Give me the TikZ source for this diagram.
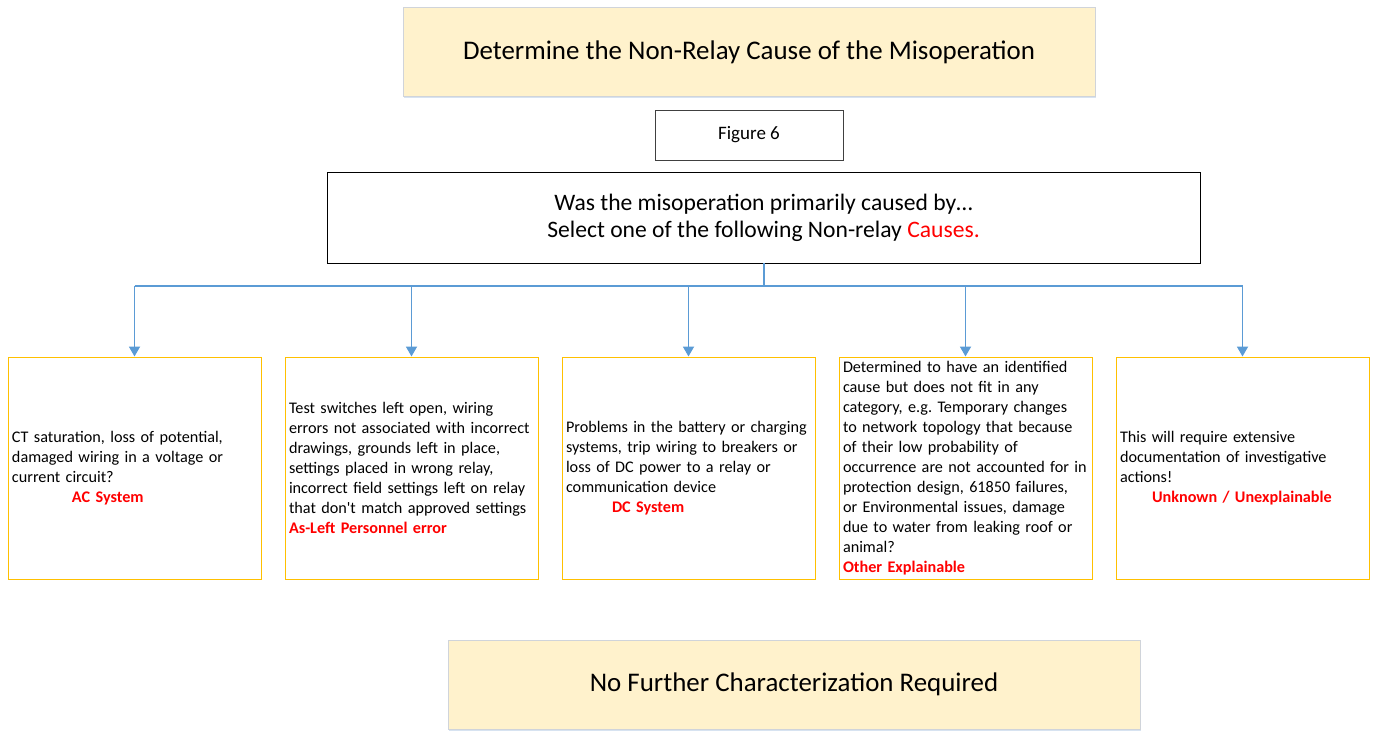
\documentclass[tikz,border=0pt]{standalone}
\usepackage{fontspec}
\setmainfont{Carlito}
\usetikzlibrary{shadows,arrows.meta}
\definecolor{boxfill}{HTML}{FFF2CC}
\definecolor{boxedge}{HTML}{D0D4DA}
\definecolor{oredge}{HTML}{FFC000}
\definecolor{arrowblue}{HTML}{5B9BD5}
\definecolor{redtxt}{HTML}{FF0000}
\definecolor{shadowblue}{HTML}{BDD0E8}
\tikzset{
  x=1pt,y=-1pt,
  headbox/.style={draw=boxedge,fill=boxfill,line width=0.8pt,minimum width=692pt,minimum height=89pt,
    drop shadow={fill=shadowblue,opacity=0.6,shadow xshift=1pt,shadow yshift=-1.5pt},font=\fontsize{26.9}{30}\selectfont},
  causebox/.style={draw=oredge,line width=1pt,minimum width=253pt,minimum height=222pt,text width=245pt,
    inner sep=4pt,align=left,font=\fontsize{16.2}{20}\selectfont},
  conn/.style={draw=arrowblue,line width=1.8pt},
  arr/.style={conn,-{Triangle[length=10pt,width=11pt]}}
}
\begin{document}
\frenchspacing
\begin{tikzpicture}
\useasboundingbox (0,0) rectangle (1374,731);
\node[headbox] (top) at (749,52) {Determine the Non-Relay Cause of the Misoperation};
\node[draw=black!75,line width=0.8pt,minimum width=188pt,minimum height=50pt,font=\fontsize{19}{22}\selectfont] (fig) at (749,135) {Figure 6};
\node[draw=black,line width=0.8pt,minimum width=873pt,minimum height=91pt,align=center,font=\fontsize{23.6}{27}\selectfont] (q) at (763.5,217.5)
  {Was the misoperation primarily caused by\dots\\Select one of the following Non-relay \textcolor{redtxt}{Causes.}};
\node[causebox] (c1) at (134.5,468) {CT saturation, loss of potential,\\damaged wiring in a voltage or\\current circuit?\\\hspace*{60pt}\textcolor{redtxt}{\bfseries AC System}};
\node[causebox] (c2) at (411.5,468) {Test switches left open, wiring\\errors not associated with incorrect\\drawings, grounds left in place,\\settings placed in wrong relay,\\incorrect field settings left on relay\\that don\textquotesingle t match approved settings\\\textcolor{redtxt}{\bfseries As-Left Personnel error}};
\node[causebox] (c3) at (688.5,468) {Problems in the battery or charging\\systems, trip wiring to breakers or\\loss of DC power to a relay or\\communication device\\\hspace*{46pt}\textcolor{redtxt}{\bfseries DC System}};
\node[causebox] (c4) at (965.5,468) {Determined to have an identified\\cause but does not fit in any\\category, e.g. Temporary changes\\to network topology that because\\of their low probability of\\occurrence are not accounted for in\\protection design, 61850 failures,\\or Environmental issues, damage\\due to water from leaking roof or\\animal?\\\textcolor{redtxt}{\bfseries Other Explainable}};
\node[causebox] (c5) at (1242.5,468) {This will require extensive\\documentation of investigative\\actions!\\\hspace*{32pt}\textcolor{redtxt}{\bfseries Unknown / Unexplainable}};
\node[headbox] (bot) at (794,684.5) {No Further Characterization Required};
\coordinate (hub) at (764,286);
\draw[conn] (q.south -| hub) -- (hub);
\draw[conn] (c1.north |- hub) -- (c5.north |- hub);
\foreach \c in {c1,c2,c3,c4,c5}{
  \draw[arr] (\c.north |- hub) -- (\c.north);
}
\end{tikzpicture}
\end{document}
